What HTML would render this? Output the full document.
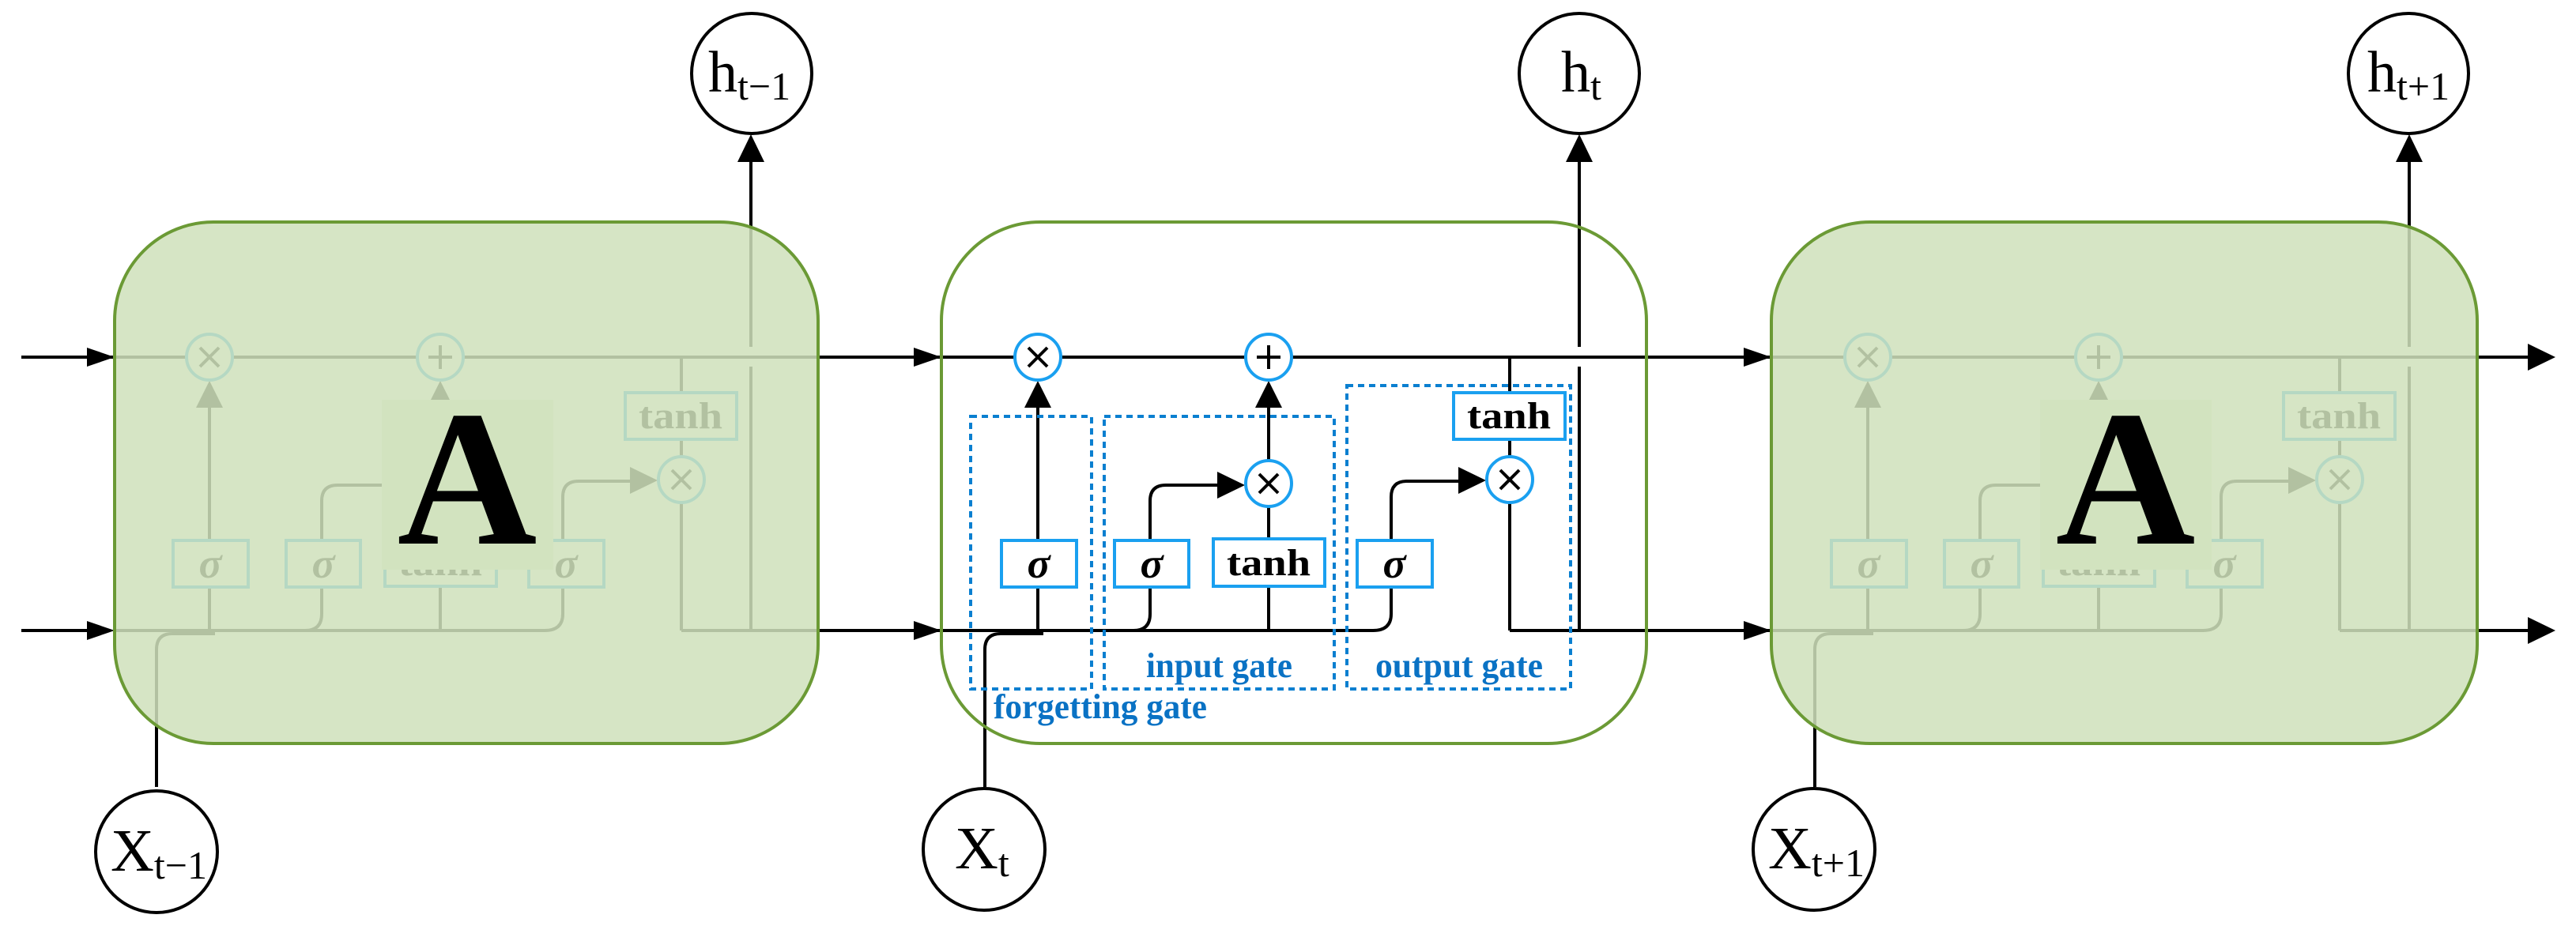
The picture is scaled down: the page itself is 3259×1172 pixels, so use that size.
<!DOCTYPE html>
<html><head><meta charset="utf-8"><style>
html,body{margin:0;padding:0;background:#fff}
svg{display:block}
.t{font-family:"Liberation Serif",serif}
</style></head><body>
<svg width="3259" height="1172" viewBox="0 0 3259 1172" xmlns="http://www.w3.org/2000/svg">
<defs>
<g id="core">
 <g fill="none" stroke="#000" stroke-width="4">
  <path d="M1313 798 V512"/>
  <path d="M1191 798 H1737 Q1760 798 1760 777 V743"/>
  <path d="M1434 798 Q1455 798 1455 777 V743"/>
  <path d="M1455 684 V634 Q1455 614 1475 614 H1545"/>
  <path d="M1605 798 V742 M1605 682 V642 M1605 582 V512"/>
  <path d="M1760 684 V629 Q1760 609 1780 609 H1848"/>
  <path d="M1910 452 V497 M1910 556 V577 M1910 637 V798"/>
  <path d="M1998 798 V464 M1998 439 V200"/>
  <path d="M1246 996 V822 Q1246 802 1266 802 H1320"/>
 </g>
 <g fill="#000">
  <polygon points="1296,516 1330,516 1313,482"/>
  <polygon points="1588,516 1622,516 1605,482"/>
  <polygon points="1540,597 1540,631 1575,614"/>
  <polygon points="1845,591 1845,625 1880,608"/>
  <polygon points="1981,205 2015,205 1998,170"/>
 </g>
 <g fill="#fff" stroke="#1aa0f0" stroke-width="4">
  <circle cx="1313" cy="452" r="29"/>
  <circle cx="1605" cy="452" r="29"/>
  <circle cx="1605" cy="612" r="29"/>
  <circle cx="1910" cy="607" r="29"/>
  <rect x="1267" y="684" width="95" height="59"/>
  <rect x="1410" y="684" width="94" height="59"/>
  <rect x="1535" y="682" width="141" height="60"/>
  <rect x="1717" y="684" width="95" height="59"/>
  <rect x="1839" y="497" width="141" height="59"/>
 </g>
 <g stroke="#000" stroke-width="4" fill="none">
  <path d="M1301 440 L1325 464 M1325 440 L1301 464"/>
  <path d="M1605 437 V467 M1590 452 H1620"/>
  <path d="M1593 600 L1617 624 M1617 600 L1593 624"/>
  <path d="M1898 595 L1922 619 M1922 595 L1898 619"/>
 </g>
</g>
</defs>

<g fill="none" stroke="#000" stroke-width="4">
 <path d="M27 452 H3205"/>
 <path d="M27 798 H112"/>
 <path d="M862 798 H1191"/>
 <path d="M1910 798 H2241"/>
 <path d="M2960 798 H3205"/>
</g>
<g fill="#000">
 <polygon points="110,440 110,464 145,452"/>
 <polygon points="110,786 110,810 145,798"/>
 <polygon points="1156,440 1156,464 1191,452"/>
 <polygon points="1156,786 1156,810 1191,798"/>
 <polygon points="2206,440 2206,464 2241,452"/>
 <polygon points="2206,786 2206,810 2241,798"/>
 <polygon points="3198,435 3198,469 3233,452"/>
 <polygon points="3198,781 3198,815 3233,798"/>
</g>

<use href="#core" transform="translate(-1048,0)"/>
<use href="#core"/>
<use href="#core" transform="translate(1050,0)"/>

<g class="t" font-weight="bold" text-anchor="middle">
 <g font-style="italic" font-size="54">
  <text x="1314" y="731">σ</text><text x="1457" y="731">σ</text><text x="1764" y="731">σ</text>
  <text x="266" y="731">σ</text><text x="409" y="731">σ</text><text x="716" y="731">σ</text>
  <text x="2364" y="731">σ</text><text x="2507" y="731">σ</text><text x="2814" y="731">σ</text>
 </g>
 <g font-size="48" lengthAdjust="spacingAndGlyphs">
  <text x="1605" y="728" textLength="106" lengthAdjust="spacingAndGlyphs">tanh</text><text x="1909" y="542" textLength="106" lengthAdjust="spacingAndGlyphs">tanh</text>
  <text x="557" y="728" textLength="106" lengthAdjust="spacingAndGlyphs">tanh</text><text x="861" y="542" textLength="106" lengthAdjust="spacingAndGlyphs">tanh</text>
  <text x="2655" y="728" textLength="106" lengthAdjust="spacingAndGlyphs">tanh</text><text x="2959" y="542" textLength="106" lengthAdjust="spacingAndGlyphs">tanh</text>
 </g>
</g>

<rect x="145" y="281" width="890" height="660" rx="125" fill="#cfe1bb" fill-opacity="0.86" stroke="#6b9a35" stroke-width="4"/>
<rect x="1191" y="281" width="892" height="660" rx="125" fill="none" stroke="#6b9a35" stroke-width="4"/>
<rect x="2241" y="281" width="893" height="660" rx="125" fill="#cfe1bb" fill-opacity="0.86" stroke="#6b9a35" stroke-width="4"/>

<rect x="483" y="506" width="217" height="215" fill="#d2e3bf"/>
<rect x="2581" y="506" width="217" height="215" fill="#d2e3bf"/>
<g class="t" font-weight="bold" font-size="245" text-anchor="middle" fill="#000">
 <text x="591" y="688">A</text>
 <text x="2689" y="688">A</text>
</g>

<g fill="none" stroke="#0a7fd0" stroke-width="4" stroke-dasharray="8,6">
 <rect x="1228" y="527" width="153" height="345"/>
 <rect x="1397" y="527" width="291" height="345"/>
 <rect x="1704" y="488" width="283" height="384"/>
</g>
<g class="t" font-weight="bold" font-size="44" fill="#0a72c4">
 <text x="1450" y="857" textLength="185" lengthAdjust="spacingAndGlyphs">input gate</text>
 <text x="1740" y="857" textLength="212" lengthAdjust="spacingAndGlyphs">output gate</text>
 <text x="1257" y="909" textLength="270" lengthAdjust="spacingAndGlyphs">forgetting gate</text>
</g>

<g fill="#fff" stroke="#000" stroke-width="4">
 <circle cx="951" cy="93" r="76"/>
 <circle cx="1998" cy="93" r="76"/>
 <circle cx="3047" cy="93" r="76"/>
 <circle cx="198" cy="1078" r="77"/>
 <circle cx="1245" cy="1075" r="77"/>
 <circle cx="2295" cy="1075" r="77"/>
</g>
<g class="t" fill="#000">
 <text x="896" y="116" font-size="74">h<tspan font-size="50" dy="10">t−1</tspan></text>
 <text x="1975" y="116" font-size="74">h<tspan font-size="50" dy="10">t</tspan></text>
 <text x="2995" y="116" font-size="74">h<tspan font-size="50" dy="10">t+1</tspan></text>
 <text x="140" y="1102" font-size="76">X<tspan font-size="50" dy="10">t−1</tspan></text>
 <text x="1208" y="1099" font-size="76">X<tspan font-size="50" dy="10">t</tspan></text>
 <text x="2237" y="1099" font-size="76">X<tspan font-size="50" dy="10">t+1</tspan></text>
</g>
</svg>
</body></html>
